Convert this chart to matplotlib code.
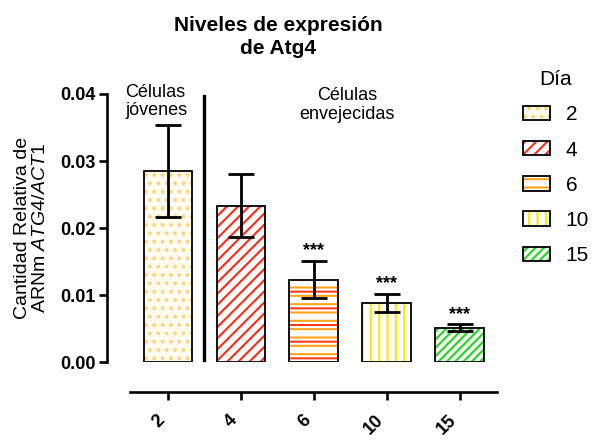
import matplotlib
matplotlib.use("Agg")
import matplotlib.pyplot as plt
from matplotlib.patches import Patch
from matplotlib.legend_handler import HandlerTuple

plt.rcParams['font.family'] = ['Liberation Sans', 'DejaVu Sans']
plt.rcParams['mathtext.fontset'] = 'custom'
plt.rcParams['mathtext.rm'] = 'Liberation Sans'
plt.rcParams['mathtext.it'] = 'Liberation Sans:italic'
plt.rcParams['hatch.linewidth'] = 1.5

# Expression data (mean and error) per day
days = ["2", "4", "6", "10", "15"]
means = [0.0285, 0.0233, 0.0123, 0.0088, 0.0051]
errors = [0.0068, 0.0047, 0.0028, 0.0014, 0.0005]
signif = ["", "", "***", "***", "***"]
yticks = [0.00, 0.01, 0.02, 0.03, 0.04]

# Fill style of each bar: face colour and hatch layers (pattern, colour)
face_colors = ['#fffbee', 'white', 'white', 'white', '#eefcee']
hatch_layers = [
    [('..', '#f7d67c')],
    [('///', '#ff2a1a')],
    [('--', '#ffa31a'), ('-', '#ff3b1a')],
    [('||', '#ffe600')],
    [('////', '#2ecc2e')],
]

fig = plt.figure(figsize=(5.92, 4.40), dpi=100)
ax = fig.add_axes([107 / 592, 1 - 362 / 440, 390 / 592, 268 / 440])

# Spine placement first: moving a spine resets its ticks
for side in ('top', 'right'):
    ax.spines[side].set_visible(False)
ax.spines['bottom'].set_position(('outward', 21.6))
ax.spines['left'].set_linewidth(1.9)
ax.spines['bottom'].set_linewidth(1.9)

x = list(range(len(days)))
width = 0.67
legend_handles = []
for i, (xi, m, e) in enumerate(zip(x, means, errors)):
    ax.bar(xi, m, width, color=face_colors[i], linewidth=0, zorder=1)
    parts = [Patch(facecolor=face_colors[i], linewidth=0)]
    for pat, col in hatch_layers[i]:
        ax.bar(xi, m, width, fill=False, hatch=pat, edgecolor=col,
               linewidth=0, zorder=2)
        parts.append(Patch(fill=False, hatch=pat, edgecolor=col, linewidth=0))
    ax.bar(xi, m, width, fill=False, edgecolor='black', linewidth=1.3, zorder=3)
    parts.append(Patch(fill=False, edgecolor='black', linewidth=1.3))
    legend_handles.append(tuple(parts))
    ax.errorbar(xi, m, yerr=e, fmt='none', ecolor='black', elinewidth=2.0,
                capsize=9.5, capthick=2.0, zorder=4)
    if signif[i]:
        ax.annotate(signif[i], (xi, m + e), xytext=(0, 1),
                    textcoords='offset points', ha='center', va='bottom',
                    fontsize=13, fontweight='bold')

# Separator between young and aged cells
ax.plot([0.5, 0.5], [0.0003, 0.0397], color='black', lw=2.4,
        clip_on=False, zorder=5)

ax.text(-0.59, 0.0389, "Células\njóvenes", ha='left', va='center',
        fontsize=13, linespacing=1.1)
ax.text(2.45, 0.03836, "Células\nenvejecidas", ha='center', va='center',
        fontsize=13, linespacing=1.1)

ax.set_xlim(-0.836, 4.51)
ax.set_ylim(0, 0.04)
ax.spines['left'].set_bounds(0, 0.04)
ax.spines['bottom'].set_bounds(-0.52, 4.51)
ax.set_yticks(yticks)
ax.set_yticklabels([f"{v:.2f}" for v in yticks], fontsize=13,
                   fontweight='bold')
ax.set_xticks(x)
ax.set_xticklabels(days, rotation=45, ha='right', fontsize=13,
                   fontweight='bold')
ax.tick_params(axis='both', length=6, width=1.9, direction='out')
ax.tick_params(axis='x', pad=8)
ax.tick_params(axis='y', pad=2)

ax.set_ylabel("Cantidad Relativa de\nARNm $\\mathit{ATG4/ACT1}$",
              fontsize=14, labelpad=8, linespacing=1.1)

fig.text(0.47, 1 - 37 / 440, "Niveles de expresión\nde Atg4",
         ha='center', va='center', fontsize=15, fontweight='bold',
         linespacing=1.3)

leg = fig.legend(legend_handles, days, title="Día",
                 handler_map={tuple: HandlerTuple(ndivide=1, pad=0)},
                 loc='upper left', bbox_to_anchor=(523 / 592, 1 - 70 / 440),
                 frameon=False, fontsize=15, title_fontsize=15,
                 handlelength=1.3, handleheight=0.7, handletextpad=0.75,
                 labelspacing=0.78, borderaxespad=0, borderpad=0)

fig.savefig("out.png", dpi=100)
